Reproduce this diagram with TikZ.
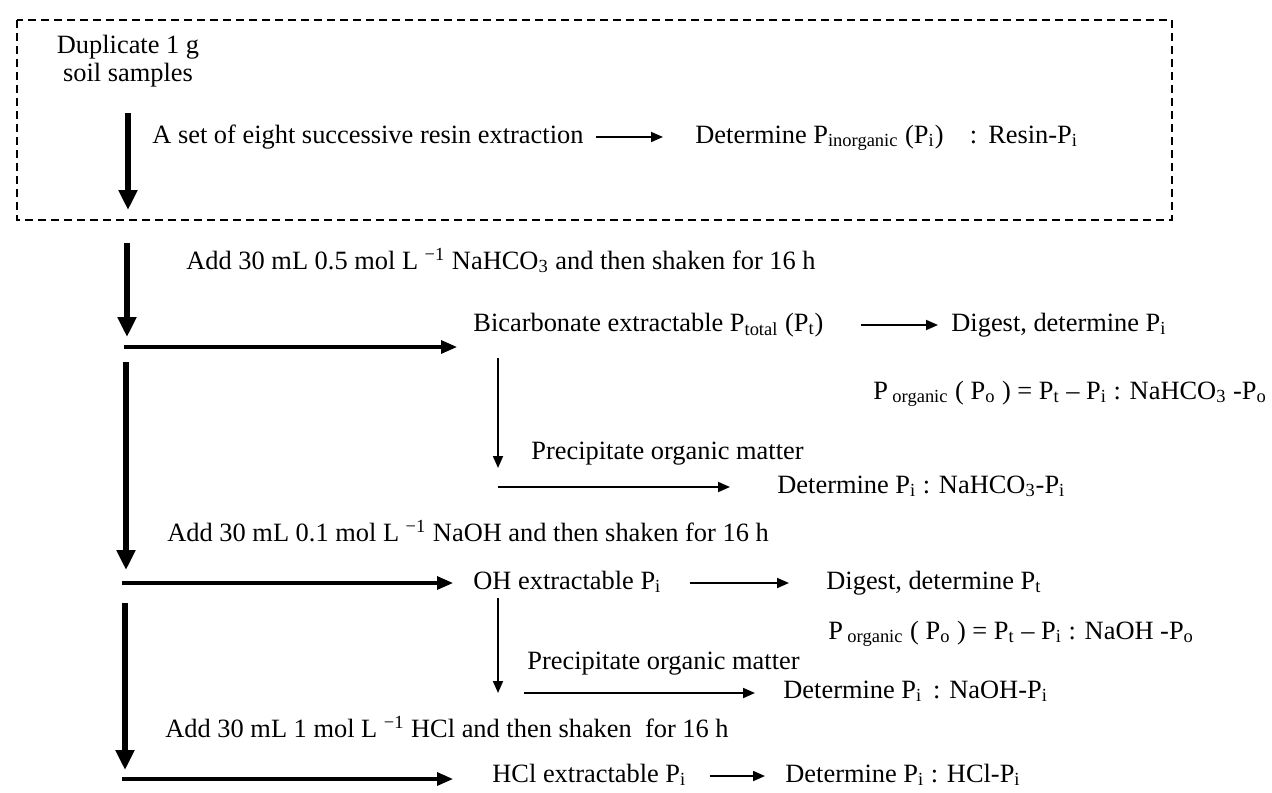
\documentclass[tikz,border=0pt]{standalone}
\usepackage{fontspec}
\setmainfont{Liberation Serif}
\usetikzlibrary{arrows.meta}

\newcommand{\Psub}[1]{P\textsubscript{#1}}

\tikzset{
  txt/.style={anchor=west, inner sep=0pt, font=\fontsize{13.2}{14}\selectfont,
    text height=9pt, text depth=3pt},
  mainarrow/.style={line width=2.6pt, -{Triangle[length=10pt,width=9pt]}},
  midarrow/.style={line width=1.6pt, -{Triangle[length=8pt,width=6.5pt]}},
  thinarrow/.style={line width=0.9pt, -{Triangle[length=6pt,width=5pt]}},
}

\begin{document}
\begin{tikzpicture}[x=0.5pt,y=-0.5pt]
        \useasboundingbox (0,0) rectangle (1272,792);

        % Resin extraction box
        \draw[line width=1pt, dash pattern=on 4pt off 2.5pt] (17,20) rectangle (1172,220);
        \node[align=center, inner sep=0pt, font=\fontsize{13.2}{14}\selectfont] (sample) at (128,61)
            {Duplicate 1 g\\soil samples};
        \node[txt] (resin) at (152,137) {A set of eight successive resin extraction};
        \node[txt] (resinp) at (695,137) {Determine \Psub{inorganic} (\Psub{i})\quad :\ \,Resin-\Psub{i}};
        \draw[thinarrow, shorten <=6pt, shorten >=16pt] (resin) -- (resinp);

        % Main column
        \coordinate (m1a) at (128,113);
        \coordinate (m1b) at (128,210);
        \coordinate (m2a) at (127,243);
        \coordinate (m2b) at (127,337);
        \coordinate (m3a) at (126,362);
        \coordinate (m3b) at (126,570);
        \coordinate (m4a) at (125,603);
        \coordinate (m4b) at (125,770);
        \coordinate (h1) at (124,347);
        \coordinate (h2) at (122,583);
        \coordinate (h3) at (122,779);
        \draw[mainarrow] (m1a) -- (m1b);
        \draw[mainarrow] (m2a) -- (m2b);
        \draw[mainarrow] (m3a) -- (m3b);
        \draw[mainarrow] (m4a) -- (m4b);

        % NaHCO3 step
        \node[txt] (add1) at (186,263) {Add 30 mL 0.5 mol L \textsuperscript{−1} NaHCO\textsubscript{3} and then shaken for 16 h};
        \node[txt] (bicarb) at (473,325) {Bicarbonate extractable \Psub{total} (\Psub{t})};
        \node[txt] (dig1) at (951,325) {Digest, determine \Psub{i}};
        \node[txt] (org1) at (873,393) {P\,\textsubscript{organic} ( \Psub{o} ) = \Psub{t} – \Psub{i} : NaHCO\textsubscript{3} -\Psub{o}};
        \node[txt] (prec1) at (531,453) {Precipitate organic matter};
        \node[txt] (det1) at (777,487) {Determine \Psub{i} : NaHCO\textsubscript{3}-\Psub{i}};
        \coordinate (b1) at (498,358);
        \coordinate (b1t) at (498,468);
        \draw[midarrow, shorten >=8pt] (h1) -- (h1 -| bicarb.west);
        \draw[thinarrow, shorten <=18.5pt, shorten >=6.5pt] (bicarb) -- (dig1);
        \draw[thinarrow] (b1) -- (b1t);
        \draw[thinarrow, shorten >=23.5pt] (b1t |- det1.west) -- (det1.west);

        % NaOH step
        \node[txt] (add2) at (167,535) {Add 30 mL 0.1 mol L \textsuperscript{−1} NaOH and then shaken for 16 h};
        \node[txt] (ohx) at (473,583) {OH extractable \Psub{i}};
        \node[txt] (dig2) at (826,583) {Digest, determine \Psub{t}};
        \node[txt] (org2) at (828,633) {P\,\textsubscript{organic} ( \Psub{o} ) = \Psub{t} – \Psub{i} : NaOH -\Psub{o}};
        \node[txt] (prec2) at (527,663) {Precipitate organic matter};
        \node[txt] (det2) at (783,692) {Determine \Psub{i}\ \,: NaOH-\Psub{i}};
        \coordinate (b2) at (498,598);
        \coordinate (b2t) at (498,693);
        \draw[midarrow, shorten >=10pt] (h2) -- (ohx.west);
        \draw[thinarrow, shorten <=14pt, shorten >=18.5pt] (ohx) -- (dig2);
        \draw[thinarrow] (b2) -- (b2t);
        \draw[thinarrow, shorten >=14pt] ([xshift=13pt]b2t) -- (b2t -| det2.west);

        % HCl step
        \node[txt] (add3) at (165,731) {Add 30 mL 1 mol L \textsuperscript{−1} HCl and then shaken\ \ for 16 h};
        \node[txt] (hclx) at (492,776) {HCl extractable \Psub{i}};
        \node[txt] (det3) at (785,776) {Determine \Psub{i} : HCl-\Psub{i}};
        \draw[midarrow, shorten >=19.5pt] (h3) -- (h3 -| hclx.west);
        \draw[thinarrow, shorten <=11.5pt, shorten >=10pt] (hclx) -- (det3);
\end{tikzpicture}
\end{document}
